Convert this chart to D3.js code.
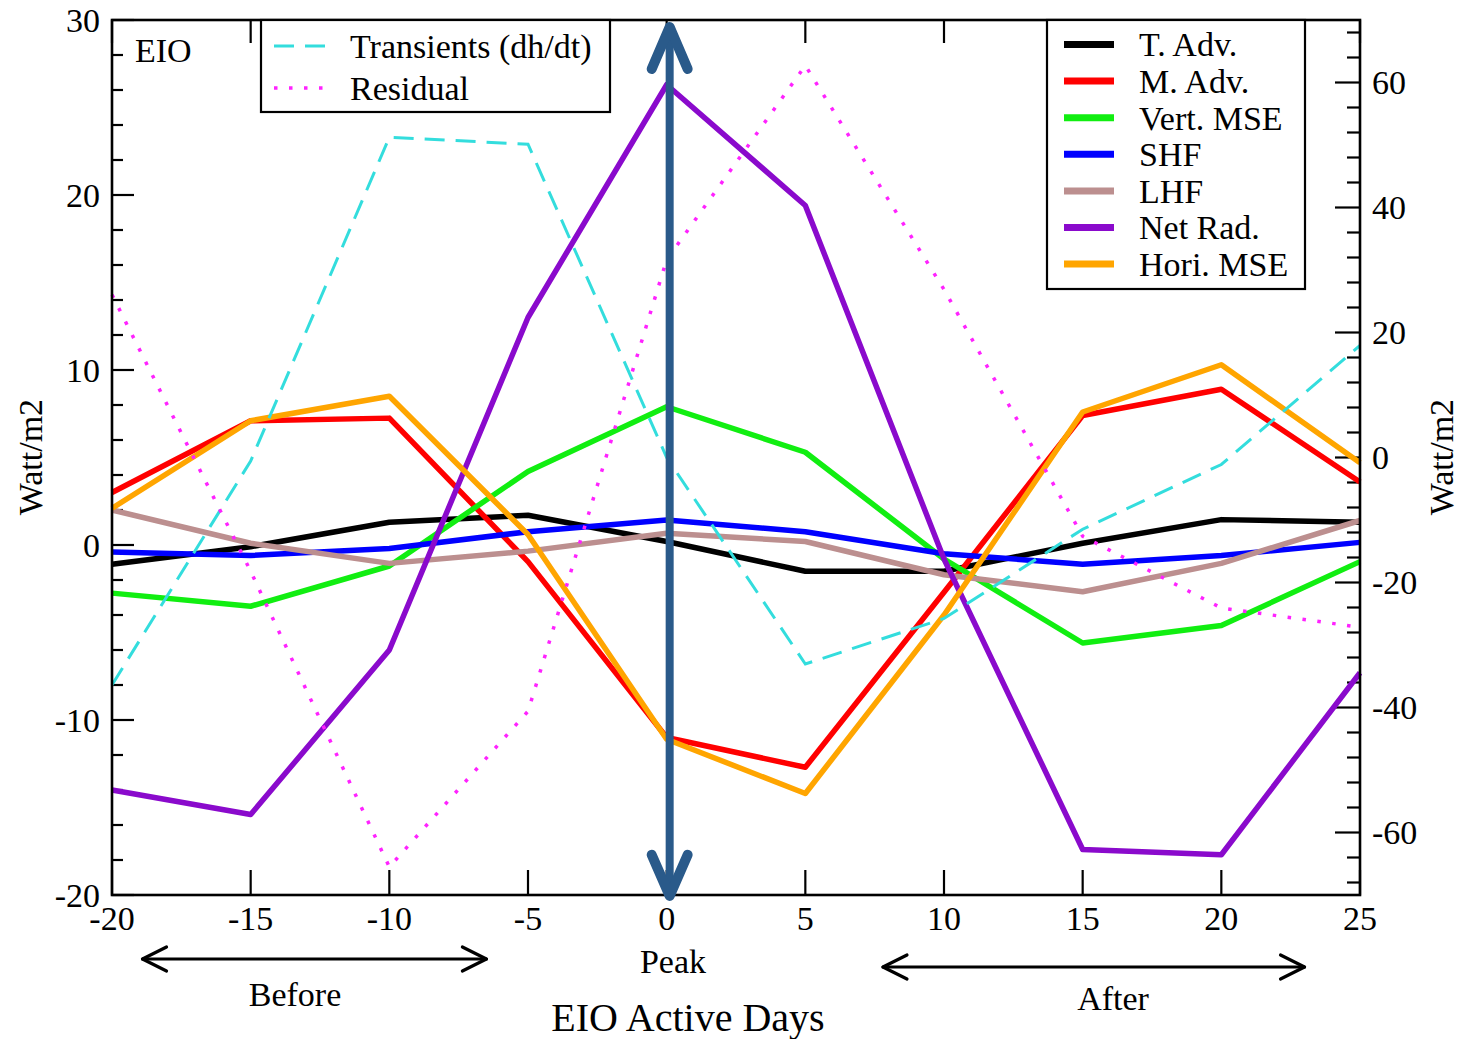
<!DOCTYPE html>
<html>
<head>
<meta charset="utf-8">
<script src="https://cdn.jsdelivr.net/npm/d3@7"></script>
<style>
  html, body { margin: 0; padding: 0; background: #fff; }
  svg { display: block; }
  text { font-family: "Liberation Serif", "Times New Roman", serif; fill: #000; }
</style>
</head>
<body>
<svg id="chart" width="1460" height="1039"></svg>
<script>
// ---- data (left-axis units, Watt/m2) ----
const days = [-20, -15, -10, -5, 0, 5, 10, 15, 20, 25];
const tAdv       = [-1.1, -0.1, 1.3, 1.7, 0.2, -1.5, -1.5, 0.1, 1.45, 1.3];
const mAdv       = [3.0, 7.1, 7.25, -0.95, -11.0, -12.7, -2.7, 7.4, 8.9, 3.6];
const vertMSE    = [-2.75, -3.5, -1.2, 4.2, 7.9, 5.3, -0.8, -5.6, -4.6, -0.95];
const shf        = [-0.4, -0.6, -0.2, 0.76, 1.43, 0.76, -0.5, -1.1, -0.6, 0.15];
const lhf        = [2.0, 0.1, -1.05, -0.35, 0.67, 0.2, -1.7, -2.67, -1.05, 1.4];
const netRad     = [-14.0, -15.4, -6.0, 13.0, 26.3, 19.4, -0.8, -17.4, -17.7, -7.3];
const horiMSE    = [2.1, 7.1, 8.5, 0.6, -11.1, -14.2, -4.0, 7.6, 10.3, 4.7];
const transients = [-8.0, 4.8, 23.3, 22.9, 5.0, -6.8, -4.2, 0.9, 4.6, 11.4];
const residual   = [14.3, -1.5, -18.4, -9.5, 16.3, 27.4, 14.6, 0.5, -3.6, -4.7];

const solidNames  = ["T. Adv.", "M. Adv.", "Vert. MSE", "SHF", "LHF", "Net Rad.", "Hori. MSE"];
const solidSeries = [tAdv, mAdv, vertMSE, shf, lhf, netRad, horiMSE];
const solidColors = ["#000000", "#ff0000", "#11ee11", "#0000ff", "#bc8f8f", "#8a0acc", "#ffa500"];
const extraNames  = ["Transients (dh/dt)", "Residual"];
const extraSeries = [transients, residual];
const extraColors = ["#33dddd", "#ff22ff"];

const xTicks = [-20, -15, -10, -5, 0, 5, 10, 15, 20, 25];
const yLeftTicks = [-20, -10, 0, 10, 20, 30];
const yRightTicks = [-60, -40, -20, 0, 20, 40, 60];

// ---- layout ----
const svg = d3.select("#chart");
const L = 112, R = 1360, T = 20, B = 895;
const x = d3.scaleLinear().domain([-20, 25]).range([L, R]);
const yL = d3.scaleLinear().domain([-20, 30]).range([B, T]);
const yR = d3.scaleLinear().domain([-70, 70]).range([B, T]);
const FS = 34;

// ---- ticks ----
const tickG = svg.append("g").attr("stroke", "#000").attr("stroke-width", 2.2);
// left axis major/minor (inward)
d3.range(-20, 30.01, 2).forEach(v => {
  const major = Math.abs(v % 10) < 1e-9;
  tickG.append("line").attr("x1", L).attr("x2", L + (major ? 22 : 11))
    .attr("y1", yL(v)).attr("y2", yL(v));
});
// right axis major/minor (inward)
d3.range(-68, 68.01, 4).forEach(v => {
  const major = Math.abs(v % 20) < 1e-9;
  tickG.append("line").attr("x1", R).attr("x2", R - (major ? 25 : 13))
    .attr("y1", yR(v)).attr("y2", yR(v));
});
// bottom and top ticks
xTicks.forEach(v => {
  tickG.append("line").attr("x1", x(v)).attr("x2", x(v)).attr("y1", B).attr("y2", B - 25);
  tickG.append("line").attr("x1", x(v)).attr("x2", x(v)).attr("y1", T).attr("y2", T + 23);
});

// ---- tick labels ----
yLeftTicks.forEach(v => {
  svg.append("text").attr("x", L - 12).attr("y", yL(v)).attr("dy", "0.35em")
    .attr("text-anchor", "end").attr("font-size", FS).text(String(v));
});
yRightTicks.forEach(v => {
  svg.append("text").attr("x", R + 12).attr("y", yR(v)).attr("dy", "0.35em")
    .attr("text-anchor", "start").attr("font-size", FS).text(String(v));
});
xTicks.forEach(v => {
  svg.append("text").attr("x", x(v)).attr("y", B + 35)
    .attr("text-anchor", "middle").attr("font-size", FS).text(String(v));
});

// ---- lines ----
const line = d3.line().x((d, i) => x(days[i])).y(d => yL(d));
const linesG = svg.append("g").attr("fill", "none");
solidSeries.forEach((s, k) => {
  linesG.append("path").datum(s).attr("d", line)
    .attr("stroke", solidColors[k]).attr("stroke-width", 5.5)
    .attr("stroke-linejoin", "round");
});
linesG.append("path").datum(transients).attr("d", line)
  .attr("stroke", extraColors[0]).attr("stroke-width", 3)
  .attr("stroke-dasharray", "20,11");
linesG.append("path").datum(residual).attr("d", line)
  .attr("stroke", extraColors[1]).attr("stroke-width", 3.5)
  .attr("stroke-dasharray", "3.5,11.5");

// ---- frame ----
svg.append("rect").attr("x", L).attr("y", T).attr("width", R - L).attr("height", B - T)
  .attr("fill", "none").attr("stroke", "#000").attr("stroke-width", 2.6);

// ---- region label ----
svg.append("text").attr("x", 135).attr("y", 50).attr("dy", "0.35em")
  .attr("font-size", FS).text("EIO");

// ---- legend 1 (transients, residual) ----
const lg1 = svg.append("g");
lg1.append("rect").attr("x", 261).attr("y", T).attr("width", 349).attr("height", 92)
  .attr("fill", "#fff").attr("stroke", "#000").attr("stroke-width", 2.2);
const lg1Y = [46, 88];
extraNames.forEach((n, k) => {
  lg1.append("line").attr("x1", 274).attr("x2", 328).attr("y1", lg1Y[k]).attr("y2", lg1Y[k])
    .attr("stroke", extraColors[k]).attr("stroke-width", k === 0 ? 3 : 3.5)
    .attr("stroke-dasharray", k === 0 ? "20,11" : "3.5,11.5");
  lg1.append("text").attr("x", 350).attr("y", lg1Y[k]).attr("dy", "0.35em")
    .attr("font-size", FS).text(n);
});

// ---- legend 2 (solid series) ----
const lg2 = svg.append("g");
lg2.append("rect").attr("x", 1047).attr("y", T).attr("width", 258).attr("height", 269)
  .attr("fill", "#fff").attr("stroke", "#000").attr("stroke-width", 2.2);
solidNames.forEach((n, k) => {
  const yy = 44.5 + k * 36.6;
  lg2.append("line").attr("x1", 1064).attr("x2", 1114).attr("y1", yy).attr("y2", yy)
    .attr("stroke", solidColors[k]).attr("stroke-width", 7);
  lg2.append("text").attr("x", 1139).attr("y", yy).attr("dy", "0.35em")
    .attr("font-size", FS).text(n);
});

// ---- peak arrow (blue, double headed) ----
const ax = x(0) + 3;
const arrowG = svg.append("g").attr("stroke", "#2a5a8a").attr("fill", "none")
  .attr("stroke-linecap", "round").attr("stroke-linejoin", "round");
arrowG.append("line").attr("x1", ax).attr("x2", ax).attr("y1", 32).attr("y2", 892)
  .attr("stroke-width", 8).attr("stroke-linecap", "butt");
arrowG.append("path").attr("d", `M${ax - 18},${yL(27.2)} L${ax},${yL(29.6)} L${ax + 18},${yL(27.2)}`)
  .attr("stroke-width", 10);
arrowG.append("path").attr("d", `M${ax - 18},${yL(-17.7)} L${ax},${yL(-20.05)} L${ax + 18},${yL(-17.7)}`)
  .attr("stroke-width", 10);

// ---- before / after arrows ----
function hArrow(x1, x2, yy) {
  const g = svg.append("g").attr("stroke", "#000").attr("fill", "none")
    .attr("stroke-width", 3.2).attr("stroke-linecap", "round").attr("stroke-linejoin", "round");
  g.append("line").attr("x1", x1).attr("x2", x2).attr("y1", yy).attr("y2", yy);
  g.append("path").attr("d", `M${x1 + 24},${yy - 12} L${x1},${yy} L${x1 + 24},${yy + 12}`);
  g.append("path").attr("d", `M${x2 - 24},${yy - 12} L${x2},${yy} L${x2 - 24},${yy + 12}`);
}
hArrow(x(-18.9), x(-6.5), 959);
hArrow(x(7.8), x(23.0), 967);

svg.append("text").attr("x", 295).attr("y", 994).attr("dy", "0.35em")
  .attr("text-anchor", "middle").attr("font-size", FS).text("Before");
svg.append("text").attr("x", 1113).attr("y", 998).attr("dy", "0.35em")
  .attr("text-anchor", "middle").attr("font-size", FS).text("After");
svg.append("text").attr("x", 673).attr("y", 961).attr("dy", "0.35em")
  .attr("text-anchor", "middle").attr("font-size", FS).text("Peak");
svg.append("text").attr("x", 688).attr("y", 1017).attr("dy", "0.35em")
  .attr("text-anchor", "middle").attr("font-size", 40).text("EIO Active Days");

// ---- axis titles ----
svg.append("text").attr("transform", "translate(30,457) rotate(-90)").attr("dy", "0.35em")
  .attr("text-anchor", "middle").attr("font-size", FS).text("Watt/m2");
svg.append("text").attr("transform", "translate(1441,457) rotate(-90)").attr("dy", "0.35em")
  .attr("text-anchor", "middle").attr("font-size", FS).text("Watt/m2");
</script>
</body>
</html>
